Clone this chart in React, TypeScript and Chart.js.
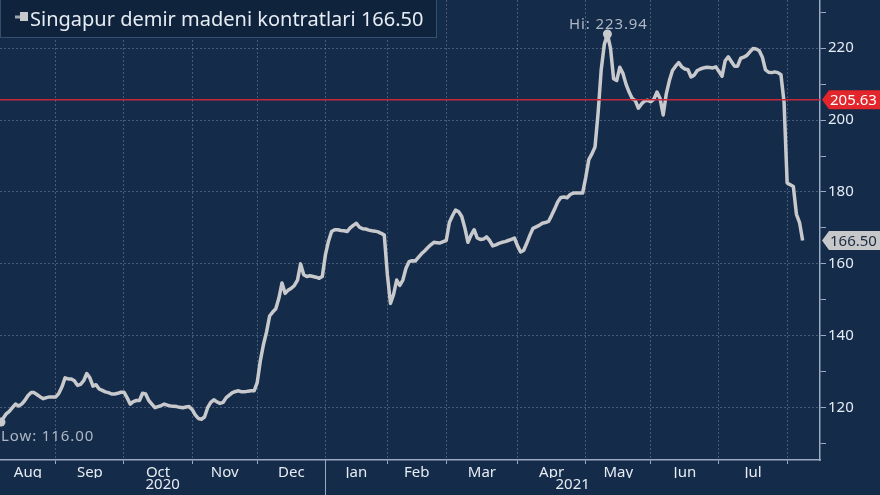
import React, { useEffect, useRef } from "react";
import { Chart, registerables } from "chart.js";

Chart.register(...registerables);

// Daily settlement prices (one value per trading session, from early Aug 2020)
const prices: number[] = [
  116, 117, 118.3, 119, 120, 121, 120.5, 121, 122, 123.3,
  124.2, 124.2, 123.6, 123, 122.5, 122.8, 123, 123, 123, 124,
  125.8, 128.3, 128, 128, 127.5, 126.2, 126.5, 127.5, 129.5, 128.3,
  126, 126.4, 125.2, 124.8, 124.4, 124.2, 123.8, 123.8, 124, 124.3,
  124.3, 122.8, 121, 121.7, 122, 122, 124, 123.8, 122, 121,
  120, 120.3, 120.6, 121, 120.7, 120.5, 120.4, 120.3, 120.1, 120,
  120.2, 120.3, 119.5, 118, 117, 116.8, 117.4, 120, 121.5, 122.2,
  121.6, 121.2, 121.5, 122.8, 123.5, 124.2, 124.5, 124.7, 124.4, 124.4,
  124.6, 124.7, 124.7, 127, 133, 137.5, 141, 145.5, 146.6, 147.5,
  150.5, 154.7, 151.8, 152.7, 153.2, 154, 155.5, 160, 157, 156.5,
  156.7, 156.5, 156.3, 156, 156.5, 162.5, 166.3, 169, 169.5, 169.5,
  169.3, 169.2, 169, 170, 170.7, 171.3, 170.2, 169.8, 169.7, 169.4,
  169.2, 169.1, 168.9, 168.5, 168, 157, 149, 151.5, 155.5, 154,
  155.5, 158.8, 160.6, 160.9, 160.8, 161.8, 162.8, 163.6, 164.5, 165.3,
  166, 165.9, 165.8, 166.2, 166.5, 171.5, 173.4, 175, 174.5, 173.2,
  170, 166, 168, 169.5, 167.2, 166.8, 166.9, 167.5, 166.5, 165,
  165.3, 165.7, 166, 166.2, 166.5, 166.8, 167.2, 165, 163.3, 163.8,
  165.8, 168, 169.9, 170.3, 170.7, 171.3, 171.5, 171.8, 173.5, 175.3,
  177.3, 178.5, 178.6, 178.4, 179.3, 179.7, 179.7, 179.7, 179.7, 184,
  189, 190.6, 192.5, 202, 214, 221, 223.94, 220, 211.5, 211,
  214.7, 213, 210, 207.8, 206, 205.4, 203.3, 204.5, 205.3, 205.5,
  205.1, 205.8, 207.8, 206, 201.4, 207.3, 211, 213.8, 215, 216,
  214.8, 214.2, 214, 212, 212.5, 213.8, 214.2, 214.5, 214.7, 214.6,
  214.5, 214.8, 213.5, 212.2, 216.5, 217.6, 216.3, 215, 215, 217.2,
  217.5, 218, 219, 219.9, 219.8, 219.3, 217.5, 214, 213.3, 213.2,
  213.4, 213.2, 212.6, 205, 182.5, 182, 181.5, 173.8, 171.5, 166.5,
];

const monthNames: string[] = ["Aug", "Sep", "Oct", "Nov", "Dec", "Jan", "Feb", "Mar", "Apr", "May", "Jun", "Jul"];
// trading-session index at which each month starts (last entry = Aug 2021)
const monthStarts: number[] = [-3, 18, 40, 62, 83, 105, 125, 144, 167, 189, 210, 232, 254];
const yearNames: string[] = ["2020", "2021"];
const yearStarts: number[] = [0, 105];

const yTickValues: number[] = [110, 120, 130, 140, 150, 160, 170, 180, 190, 200, 210, 220, 230];
const yLabelStep = 20;

const seriesName = "Singapur demir madeni kontratlari";
const lastValue = 166.5;
const refValue = 205.63;
const hiValue = 223.94;
const loValue = 116.0;

const X_MIN = 0;
const X_MAX = 264.6;
const Y_MIN = 105.45;
const Y_MAX = 233.4;

const BG = "#142b4a";
const GRID = "rgba(150,170,200,0.38)";
const AXIS = "#9aaac0";
const TEXT = "#e6ecf3";
const LINE = "#c8c9cc";
const RED = "#e3262c";
const FONT = "'Noto Sans', 'DejaVu Sans', sans-serif";

export default function App() {
  const ref = useRef<HTMLCanvasElement | null>(null);

  useEffect(() => {
    const canvas = ref.current;
    if (!canvas) return;

    const hiIdx = prices.indexOf(hiValue);
    const loIdx = prices.indexOf(loValue);

    const boundaries = monthStarts.filter((v) => v >= X_MIN && v <= X_MAX);
    const labelTicks = monthNames.map((name, i) => {
      const a = Math.max(monthStarts[i], X_MIN);
      const b = Math.min(monthStarts[i + 1], X_MAX);
      return { value: (a + b) / 2, name };
    });
    const yearTicks = yearNames.map((name, i) => {
      const a = Math.max(yearStarts[i], X_MIN);
      const b = i + 1 < yearStarts.length ? yearStarts[i + 1] : X_MAX;
      return { value: (a + b) / 2, name };
    });

    const isBoundary = (v: number) => boundaries.some((b) => Math.abs(b - v) < 1e-6);
    const monthLabel = (v: number) => {
      const t = labelTicks.find((l) => Math.abs(l.value - v) < 1e-6);
      return t ? t.name : "";
    };
    const yearLabel = (v: number) => {
      const t = yearTicks.find((l) => Math.abs(l.value - v) < 1e-6);
      return t ? t.name : "";
    };
    const noPad = (s: any) => {
      s.paddingTop = 0;
      s.paddingBottom = 0;
      s.paddingLeft = 0;
      s.paddingRight = 0;
    };

    const decor = {
      id: "decor",
      beforeDraw(chart: any) {
        const c = chart.ctx;
        c.save();
        c.fillStyle = BG;
        c.fillRect(0, 0, chart.width, chart.height);
        c.restore();
      },
      afterDraw(chart: any) {
        const c = chart.ctx;
        const xs = chart.scales.x;
        const ys = chart.scales.y;
        const area = chart.chartArea;
        c.save();

        // year separator
        const sx = Math.round(xs.getPixelForValue(yearStarts[1])) + 0.5;
        c.strokeStyle = AXIS;
        c.lineWidth = 1;
        c.beginPath();
        c.moveTo(sx, area.bottom);
        c.lineTo(sx, chart.height);
        c.stroke();

        // Hi marker
        const hx = xs.getPixelForValue(hiIdx);
        const hy = ys.getPixelForValue(hiValue);
        c.fillStyle = "#c8c9cc";
        c.beginPath();
        c.arc(hx, hy, 4.5, 0, Math.PI * 2);
        c.fill();
        c.font = `15px ${FONT}`;
        (c as any).letterSpacing = "0.9px";
        c.fillStyle = "#aeb8c4";
        c.textAlign = "center";
        c.textBaseline = "alphabetic";
        c.fillText(`Hi: ${hiValue.toFixed(2)}`, hx + 1, hy - 5);

        // Low marker
        const lx = xs.getPixelForValue(loIdx);
        const ly = ys.getPixelForValue(loValue);
        c.fillStyle = "#c8c9cc";
        c.beginPath();
        c.arc(lx + 1, ly, 4.5, 0, Math.PI * 2);
        c.fill();
        c.fillStyle = "#aeb8c4";
        c.textAlign = "left";
        c.fillText(`Low: ${loValue.toFixed(2)}`, 1, ly + 19);
        (c as any).letterSpacing = "0px";

        // value boxes on right axis
        const box = (v: number, fill: string, txt: string) => {
          const cy = ys.getPixelForValue(v);
          const x0 = area.right + 2;
          const h = 9.5;
          c.fillStyle = fill;
          c.beginPath();
          c.moveTo(x0, cy);
          c.lineTo(x0 + 7, cy - h);
          c.lineTo(chart.width, cy - h);
          c.lineTo(chart.width, cy + h);
          c.lineTo(x0 + 7, cy + h);
          c.closePath();
          c.fill();
          c.fillStyle = txt;
          c.font = `15px ${FONT}`;
          c.textAlign = "left";
          c.textBaseline = "middle";
          c.fillText(v.toFixed(2), x0 + 8, cy + 1);
        };
        box(refValue, RED, "#ffffff");
        box(lastValue, "#c6c7c9", "#1b2a3d");

        // legend box
        c.fillStyle = "#10233d";
        c.fillRect(0, 0, 437, 38);
        c.strokeStyle = "#33506f";
        c.lineWidth = 1;
        c.strokeRect(0.5, -1, 436, 38.5);
        c.fillStyle = "#9ea6b0";
        c.fillRect(15, 15.5, 5, 3);
        c.fillStyle = "#c8c9cc";
        c.fillRect(20, 12, 8, 9);
        c.fillStyle = TEXT;
        c.font = `20px ${FONT}`;
        c.textAlign = "left";
        c.textBaseline = "alphabetic";
        c.fillText(`${seriesName} ${lastValue.toFixed(2)}`, 30, 26);

        c.restore();
      },
    };

    const chart = new Chart(canvas, {
      type: "line",
      data: {
        datasets: [
          {
            label: seriesName,
            data: prices.map((p, i) => ({ x: i, y: p })),
            borderColor: LINE,
            borderWidth: 3.5,
            pointRadius: 0,
            tension: 0,
            borderJoinStyle: "round",
            order: 1,
          },
          {
            label: "ref",
            data: [
              { x: X_MIN, y: refValue },
              { x: X_MAX, y: refValue },
            ],
            borderColor: "#c8283a",
            borderWidth: 1.5,
            pointRadius: 0,
            order: 0,
          },
        ],
      },
      options: {
        responsive: false,
        animation: false,
        devicePixelRatio: 1,
        layout: { padding: 0, autoPadding: false },
        plugins: { legend: { display: false }, tooltip: { enabled: false } },
        scales: {
          x: {
            type: "linear",
            position: "bottom",
            min: X_MIN,
            max: X_MAX,
            weight: 0,
            afterBuildTicks: (s: any) => {
              const all = [...boundaries, ...labelTicks.map((l) => l.value)].sort((a, b) => a - b);
              s.ticks = all.map((v) => ({ value: v }));
            },
            afterFit: (s: any) => {
              s.height = 18;
              noPad(s);
            },
            grid: {
              color: (ctx: any) => (ctx.tick && isBoundary(ctx.tick.value) ? GRID : "rgba(0,0,0,0)"),
              tickColor: (ctx: any) => (ctx.tick && isBoundary(ctx.tick.value) ? AXIS : "rgba(0,0,0,0)"),
              tickLength: 4,
              lineWidth: 1,
            },
            border: { display: true, color: AXIS, width: 1.5, dash: [2, 2] },
            ticks: {
              autoSkip: false,
              maxRotation: 0,
              padding: 0,
              color: TEXT,
              font: { family: FONT, size: 15 },
              callback: (v: any) => monthLabel(Number(v)),
            },
          },
          x2: {
            type: "linear",
            position: "bottom",
            min: X_MIN,
            max: X_MAX,
            weight: 1,
            afterBuildTicks: (s: any) => {
              s.ticks = yearTicks.map((t) => ({ value: t.value }));
            },
            afterFit: (s: any) => {
              s.height = 17;
              noPad(s);
            },
            grid: { display: false, drawTicks: false },
            border: { display: false },
            ticks: {
              autoSkip: false,
              maxRotation: 0,
              padding: -2,
              color: TEXT,
              font: { family: FONT, size: 15 },
              callback: (v: any) => yearLabel(Number(v)),
            },
          },
          y: {
            type: "linear",
            position: "right",
            min: Y_MIN,
            max: Y_MAX,
            afterBuildTicks: (s: any) => {
              s.ticks = yTickValues.map((v) => ({ value: v }));
            },
            afterFit: (s: any) => {
              s.width = 60;
              noPad(s);
            },
            grid: {
              color: (ctx: any) => (ctx.tick && ctx.tick.value % yLabelStep === 0 ? GRID : "rgba(0,0,0,0)"),
              tickColor: AXIS,
              tickLength: 6,
              lineWidth: 1,
            },
            border: { display: true, color: AXIS, width: 1.5, dash: [2, 2] },
            ticks: {
              padding: 2,
              color: TEXT,
              font: { family: FONT, size: 15 },
              callback: (v: any) => (Number(v) % yLabelStep === 0 ? String(v) : ""),
            },
          },
        },
      },
      plugins: [decor],
    });

    return () => chart.destroy();
  }, []);

  return (
    <div style={{ position: "fixed", left: 0, top: 0, width: 880, height: 495, background: BG }}>
      <canvas ref={ref} width={880} height={495} style={{ display: "block" }} />
    </div>
  );
}
